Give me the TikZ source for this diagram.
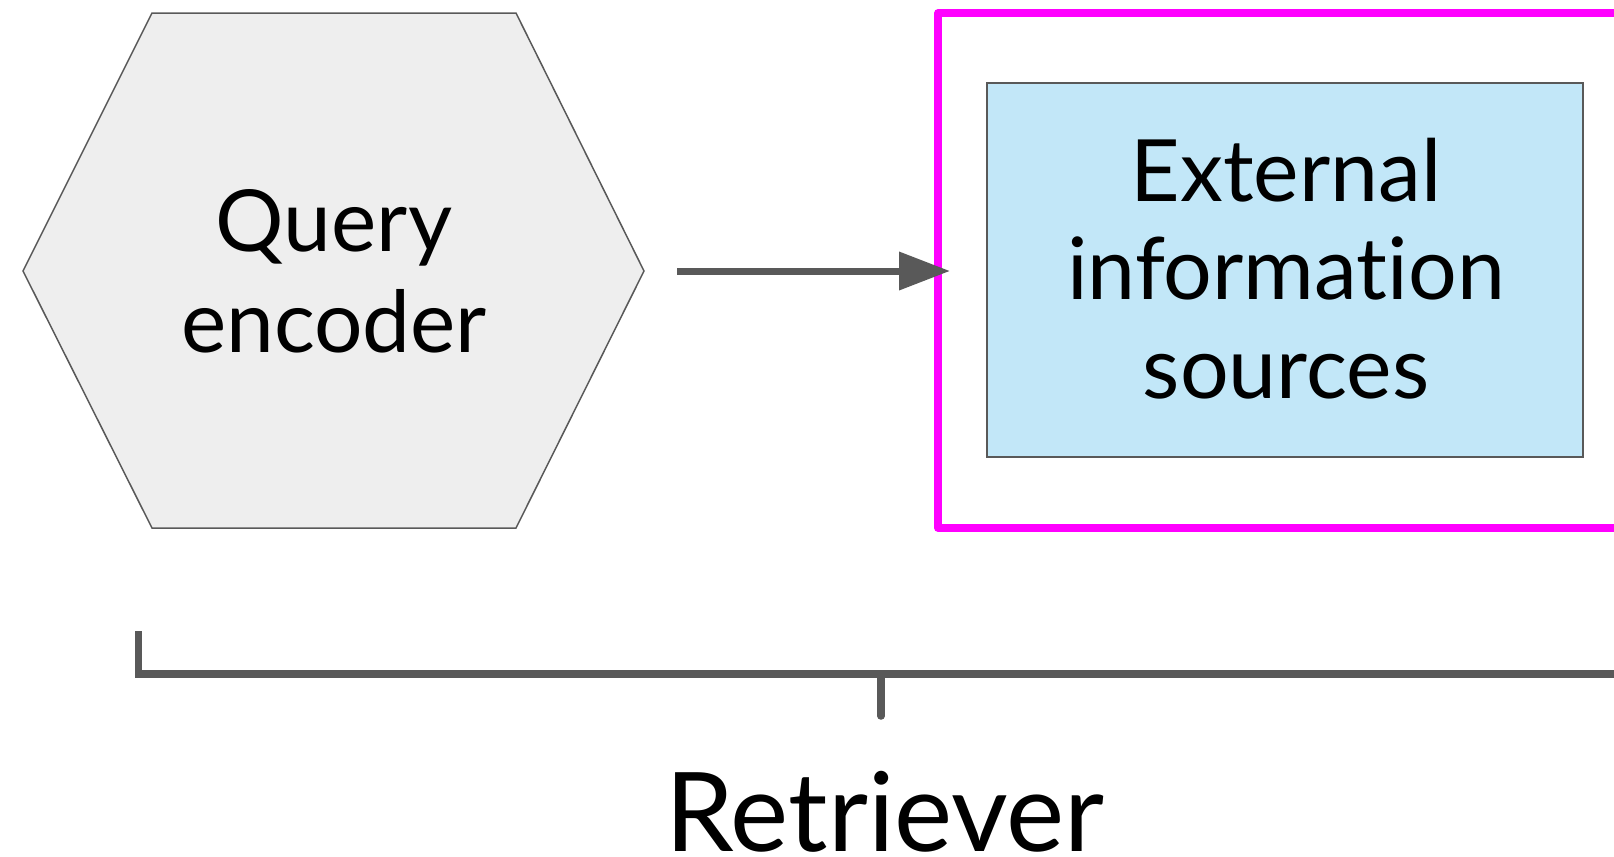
\documentclass[tikz,border=0pt]{standalone}
\usepackage{fontspec}
\setmainfont{Lato}[Ligatures=NoCommon]
\usetikzlibrary{arrows.meta}
\definecolor{linegray}{HTML}{595959}
\definecolor{hexfill}{HTML}{EEEEEE}
\definecolor{infoblue}{HTML}{C2E7F8}
\definecolor{magentaedge}{HTML}{FF00FF}
\tikzset{
  thinedge/.style={draw=linegray, line width=0.75pt},
  bigtext/.style={align=center, inner sep=0pt},
  thickline/.style={draw=linegray, line width=3.75pt},
  arr/.style={draw=linegray, line width=3.5pt, -{Triangle[length=25.5pt,width=18.5pt]}},
}
\begin{document}
\begin{tikzpicture}[x=0.5pt,y=-0.5pt]
\useasboundingbox (0,0) rectangle (1614,857);
\begin{scope}
\clip (0,0) rectangle (1614,857);
% hexagon
\draw[thinedge, fill=hexfill, line join=miter] (152,13) -- (516,13) -- (644,271) -- (516,528) -- (152,528) -- (23,271) -- cycle;
\node[bigtext, anchor=base, font=\fontsize{42.8pt}{50.8pt}\selectfont] (qe) at (334,352.7) {Query\\encoder};
% magenta frame
\draw[draw=magentaedge, line width=3.75pt, line join=round] (1750,13) -- (938,13) -- (938,528) -- (1750,528);
% blue box
\node[thinedge, fill=infoblue, minimum width=298pt, minimum height=187pt, inner sep=0pt] (box) at (1285,270) {};
\node[bigtext, anchor=base, font=\fontsize{43pt}{49.3pt}\selectfont] (ext) at (1286,398.3) {External\\information\\sources};
% arrow
\coordinate (a1) at (677,271);
\coordinate (a2) at (950,271);
\draw[arr] (a1) -- (a2);
% bracket
\coordinate (b1) at (138.5,631);
\coordinate (b2) at (138.5,674);
\coordinate (b3) at (1750,674);
\coordinate (t1) at (881,674);
\coordinate (t2) at (881,716);
\draw[thickline] (b1) -- (b2) -- (b3);
\draw[thickline, line cap=round] (t1) -- (t2);
\node[font=\fontsize{55pt}{64pt}\selectfont, inner sep=0pt, anchor=base] (ret) at (885,851) {Retriever};
\end{scope}
\end{tikzpicture}
\end{document}
